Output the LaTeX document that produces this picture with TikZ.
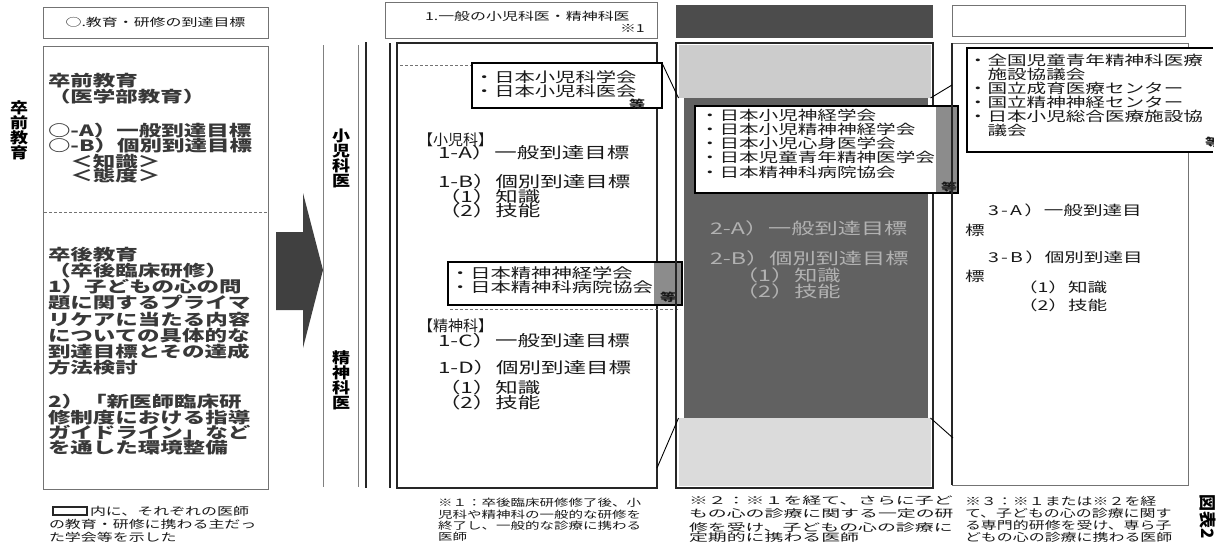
\documentclass[tikz,border=0pt]{standalone}
\usepackage{fontspec}
\setmainfont{Noto Sans CJK JP}[FakeStretch=1.45]
\newfontfamily\jpplain{Noto Sans CJK JP}
\newfontfamily\jpmid{Noto Sans CJK JP}[FakeStretch=1.2]
\newfontfamily\jpwide{Noto Sans CJK JP}[FakeStretch=1.8]
\usetikzlibrary{fit}
\begin{document}
\begin{tikzpicture}[x=1pt,y=-1pt,
  txt/.style={inner sep=0pt, outer sep=0pt, anchor=west, text=black!90},
  czero/.style={txt, font=\bfseries\fontsize{15.5}{16}\selectfont, text=black!78},
  cone/.style={txt, font=\fontsize{15.5}{16}\selectfont},
  brk/.style={txt, font=\jpplain\fontsize{15}{15}\selectfont},
  subA/.style={txt, font=\fontsize{14}{14}\selectfont},
  subB/.style={txt, font=\fontsize{13.5}{14}\selectfont},
  ctwo/.style={txt, font=\fontsize{16}{16}\selectfont, text=black!30},
  cthree/.style={txt, font=\fontsize{13.5}{14}\selectfont},
  hdr/.style={txt, font=\fontsize{11}{12}\selectfont},
  fnA/.style={txt, font=\fontsize{11}{12}\selectfont},
  fnB/.style={txt, font=\fontsize{10}{11}\selectfont},
  fnC/.style={txt, font=\jpwide\fontsize{10.5}{11}\selectfont},
  etc/.style={txt, font=\bfseries\fontsize{11}{11}\selectfont},
  vlab/.style={inner sep=0pt, align=center, font=\jpmid\bfseries\fontsize{15}{15}\selectfont},
  frame/.style={inner sep=0pt, outer sep=0pt, draw=black!85, line width=1.1pt},
  faint/.style={inner sep=0pt, outer sep=0pt, draw=black!55, line width=1pt},
  subbox/.style={inner sep=0pt, outer sep=0pt, draw=black, line width=1.4pt, fill=white},
  patch/.style={inner sep=0pt, outer sep=0pt, fill=black!45},
  band/.style={inner sep=0pt, outer sep=0pt},
  rule/.style={black!55, line width=0.8pt, dash pattern=on 3pt off 2pt},
  callout/.style={black, line width=0.9pt}
]
\useasboundingbox (0,0) rectangle (1222,547);
\fill[white] (0,0) rectangle (1222,547);

% ---------------- left label
\node[vlab] (lab0) at (19,130) {卒\\前\\教\\育};

% ---------------- column 0
\node[faint, fit={(43,7) (268,38)}] (h0) {};
\node[hdr, anchor=center] (h0t) at (h0.center) {○.教育・研修の到達目標};
\node[faint, fit={(43,46) (268,489)}] (b0) {};
\coordinate (d0l) at (44,212);
\coordinate (d0r) at (267,212);
\draw[rule] (d0l) -- (d0r);

\node[czero] (t01) at (48,81) {卒前教育};
\node[czero] (t02) at (48,97) {（医学部教育）};
\node[czero] (t03) at (48,131) {○-A）一般到達目標};
\node[czero] (t04) at (48,146) {○-B）個別到達目標};
\node[czero] (t05) at (48,162) {　＜知識＞};
\node[czero] (t06) at (48,176) {　＜態度＞};
\node[czero] (t07) at (48,255) {卒後教育};
\node[czero] (t08) at (48,271) {（卒後臨床研修）};
\node[czero] (t09) at (48,287) {1）子どもの心の問};
\node[czero] (t10) at (48,303) {題に関するプライマ};
\node[czero] (t11) at (48,320) {リケアに当たる内容};
\node[czero] (t12) at (48,336) {についての具体的な};
\node[czero] (t13) at (48,352) {到達目標とその達成};
\node[czero] (t14) at (48,368) {方法検討};
\node[czero] (t15) at (48,402) {2）「新医師臨床研};
\node[czero] (t16) at (48,418) {修制度における指導};
\node[czero] (t17) at (48,433) {ガイドライン」など};
\node[czero] (t18) at (48,448) {を通した環境整備};

% footnote 0
\node[draw=black!85, line width=1.6pt, inner sep=0pt, fit={(53,507) (87,515)}] (fn0box) {};
\node[fnA] (fn01) at (90,511) {内に、それぞれの医師};
\node[fnA] (fn02) at (49,524) {の教育・研修に携わる主だっ};
\node[fnA] (fn03) at (49,537) {た学会等を示した};

% ---------------- arrow
\fill[black!75] (276,232) -- (303,232) -- (303,193) -- (323,270) -- (303,348) -- (303,310) -- (276,310) -- cycle;

% ---------------- label column
\coordinate (v1t) at (323,45);  \coordinate (v1b) at (323,487);
\coordinate (v2t) at (358,45);  \coordinate (v2b) at (358,487);
\coordinate (v3t) at (366,42);  \coordinate (v3b) at (366,488);
\coordinate (v4t) at (390,43);  \coordinate (v4b) at (390,488);
\draw[black!50, line width=0.9pt] (v1t) -- (v1b);
\draw[black!50, line width=0.9pt] (v2t) -- (v2b);
\draw[black!85, line width=1.1pt] (v3t) -- (v3b);
\draw[black!85, line width=1.1pt] (v4t) -- (v4b);
\node[vlab] (lab1) at (341,158) {小\\児\\科\\医};
\node[vlab] (lab2) at (341,380) {精\\神\\科\\医};

% ---------------- column 1
\node[faint, fit={(385,2) (657,38)}] (h1) {};
\node[hdr] (h1t) at (425,16) {1.一般の小児科医・精神科医};
\node[hdr] (h1n) at (620,28) {※1};
\node[frame, fit={(397,43) (657,488)}] (b1) {};
\coordinate (d1l) at (400,65);
\coordinate (d1r) at (655,65);
\draw[rule] (d1l) -- (d1r);

\node[brk] (t1a) at (418,140) {【小児科】};
\node[cone] (t1b) at (438,153) {1-A）一般到達目標};
\node[cone] (t1c) at (438,182) {1-B）個別到達目標};
\node[cone] (t1d) at (438,197) {（1）知識};
\node[cone] (t1e) at (438,211) {（2）技能};
\node[brk] (t1f) at (418,326) {【精神科】};
\node[cone] (t1g) at (438,341) {1-C）一般到達目標};
\node[cone] (t1h) at (438,368) {1-D）個別到達目標};
\node[cone] (t1i) at (438,388) {（1）知識};
\node[cone] (t1j) at (438,403) {（2）技能};

% sub box 1
\node[subbox, fit={(472,63) (662,108)}] (s1) {};
\node[subA] (s1a) at (474,77) {・日本小児科学会};
\node[subA] (s1b) at (474,91) {・日本小児科医会};
\node[etc, anchor=east] (s1c) at (645,104) {等};

% sub box 2
\node[subbox, fit={(448,262) (682,305)}] (s2) {};
\node[patch, fit={(654,263) (681,304)}] (s2p) {};
\draw[black, line width=1.4pt] (s2.north west) rectangle (s2.south east);
\node[subA] (s2a) at (450,273) {・日本精神神経学会};
\node[subA] (s2b) at (450,287) {・日本精神科病院協会};
\node[etc] (s2c) at (660,297) {等};
\coordinate (d2l) at (450,309);
\coordinate (d2r) at (680,309);
\draw[rule] (d2l) -- (d2r);

% ---------------- column 2
\node[inner sep=0pt, fill=black!70, draw=black!70, fit={(676,5) (932,37)}] (h2) {};
\node[band, fill=black!20, fit={(678.5,45) (930.5,98)}] (b2top) {};
\node[band, fill=black!62, fit={(684,98) (928,418)}] (b2mid) {};
\node[band, fill=black!14, fit={(678.5,418) (930.5,486)}] (b2bot) {};
\node[frame, fit={(676,43) (933,488)}] (b2) {};

\node[ctwo] (t2a) at (710,228) {2-A）一般到達目標};
\node[ctwo] (t2b) at (710,258) {2-B）個別到達目標};
\node[ctwo] (t2c) at (735,275) {（1）知識};
\node[ctwo] (t2d) at (735,291) {（2）技能};

% sub box 3 (column 2)
\node[subbox, fit={(695,106) (958,193)}] (s3) {};
\node[patch, fit={(936,107) (957,192)}] (s3p) {};
\draw[black, line width=1.4pt] (s3.north west) rectangle (s3.south east);
\node[subB] (s3a) at (700,115) {・日本小児神経学会};
\node[subB] (s3b) at (700,129) {・日本小児精神神経学会};
\node[subB] (s3c) at (700,143) {・日本小児心身医学会};
\node[subB] (s3d) at (700,157) {・日本児童青年精神医学会};
\node[subB] (s3e) at (700,172) {・日本精神科病院協会};
\node[etc] (s3f) at (941,187) {等};

% ---------------- column 3
\node[faint, fit={(952,5) (1185,36)}] (h3) {};
\node[faint, fit={(952,43) (1188,485)}] (b3) {};
\draw[black!85, line width=1.1pt] (b3.north west) -- (b3.south west);

\node[band, fill=white, fit={(967,48) (1213,152)}] (s4) {};
\draw[black, line width=1.6pt] (s4.north east) -- (s4.north west) -- (s4.south west) -- (s4.south east);
\node[subB] (s4a) at (968,60) {・全国児童青年精神科医療};
\node[subB] (s4b) at (968,74) {　施設協議会};
\node[subB] (s4c) at (968,88) {・国立成育医療センター};
\node[subB] (s4d) at (968,102) {・国立精神神経センター};
\node[subB] (s4e) at (968,116) {・日本小児総合医療施設協};
\node[subB] (s4f) at (968,130) {　議会};
\begin{scope}
\clip (s4.north west) rectangle (s4.south east);
\node[etc] (s4g) at (1205,142) {等};
\end{scope}

\node[cthree] (t3a) at (988,210) {3\,-\,A\,）一般到達目};
\node[cthree] (t3b) at (965,230) {標};
\node[cthree] (t3c) at (988,257) {3\,-\,B\,）個別到達目};
\node[cthree] (t3d) at (965,276) {標};
\node[cthree] (t3e) at (1018,287) {（1）知識};
\node[cthree] (t3f) at (1018,305) {（2）技能};

% ---------------- callout lines
\coordinate (k1) at (657,468);
\coordinate (k2) at (952,85);
\coordinate (k3) at (953,438);
\draw[callout] (s1.north east) -- (b2top.south west);
\draw[callout] (k1) -- (b2bot.north west);
\draw[callout] (b2top.south east) -- (k2);
\draw[callout] (b2bot.north east) -- (k3);

% ---------------- footnotes
\node[fnB] (fn11) at (438,503) {※１：卒後臨床研修修了後、小};
\node[fnB] (fn12) at (438,515) {児科や精神科の一般的な研修を};
\node[fnB] (fn13) at (438,526) {終了し、一般的な診療に携わる};
\node[fnB] (fn14) at (438,537) {医師};

\node[fnC] (fn21) at (689,501) {※２：※１を経て、さらに子ど};
\node[fnC] (fn22) at (689,514) {もの心の診療に関する一定の研};
\node[fnC] (fn23) at (689,527) {修を受け、子どもの心の診療に};
\node[fnC] (fn24) at (689,538) {定期的に携わる医師};

\node[fnA] (fn31) at (965,501) {※３：※１または※２を経};
\node[fnA] (fn32) at (965,513) {て、子どもの心の診療に関す};
\node[fnA] (fn33) at (965,525) {る専門的研修を受け、専ら子};
\node[fnA] (fn34) at (965,537) {どもの心の診療に携わる医師};

\node[inner sep=0pt, rotate=-90, font=\jpplain\bfseries\fontsize{17}{17}\selectfont] (fig) at (1208,517) {図表2};
\end{tikzpicture}
\end{document}
